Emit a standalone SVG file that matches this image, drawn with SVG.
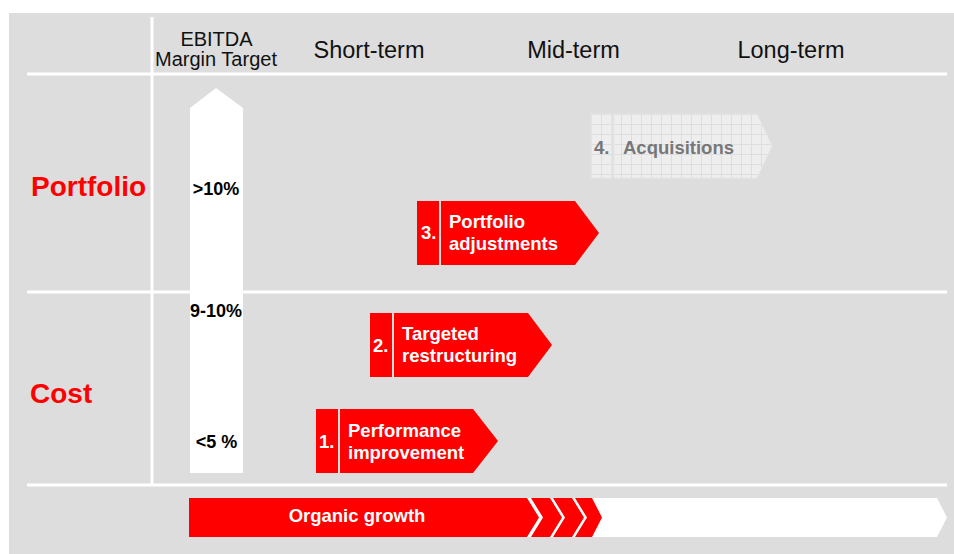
<svg xmlns="http://www.w3.org/2000/svg" width="954" height="554" viewBox="0 0 954 554">
  <defs>
    <pattern id="grid" width="10" height="10" patternUnits="userSpaceOnUse" x="591" y="114">
      <rect width="10" height="10" fill="#EEEEEE"/>
      <path d="M0 0.5H10M0.5 0V10" stroke="#DEDEDE" stroke-width="1" fill="none"/>
    </pattern>
    <style>
      text { font-family: "Liberation Sans", Arial, sans-serif; }
      .hdr { font-size: 23.5px; fill: #111; text-anchor: middle; }
      .sub { font-size: 20px; fill: #111; text-anchor: middle; }
      .row { font-size: 28px; font-weight: bold; fill: #FF0000; }
      .pct { font-size: 18px; font-weight: bold; fill: #000; text-anchor: middle; }
      .lbl { font-size: 18.5px; font-weight: bold; fill: #FFFFFF; }
      .glbl { font-size: 18.5px; font-weight: bold; fill: #777777; }
      .red { fill: #FF0000; }
      .grid { stroke: #FFFFFF; stroke-width: 3; fill: none; }
    </style>
  </defs>

  <rect x="9" y="13" width="945" height="541" fill="#DDDDDD"/>

  <g id="gridlines">
    <line class="grid" x1="27" y1="74" x2="947" y2="74"/>
    <line class="grid" x1="27" y1="292" x2="947" y2="292"/>
    <line class="grid" x1="27" y1="485" x2="947" y2="485"/>
    <line class="grid" x1="152" y1="17" x2="152" y2="485"/>
  </g>

  <g id="headers">
    <text class="sub" x="216.5" y="46">EBITDA</text>
    <text class="sub" x="216" y="66">Margin Target</text>
    <text class="hdr" x="369" y="58">Short-term</text>
    <text class="hdr" x="573.5" y="58">Mid-term</text>
    <text class="hdr" x="791" y="58">Long-term</text>
  </g>

  <g id="rows">
    <text class="row" x="31" y="196">Portfolio</text>
    <text class="row" x="30" y="403">Cost</text>
  </g>

  <g id="ebitda-arrow">
    <polygon points="190,108 216,88 243,108 243,473 190,473" fill="#FFFFFF"/>
    <text class="pct" x="216" y="195">&gt;10%</text>
    <text class="pct" x="216" y="317">9-10%</text>
    <text class="pct" x="216.5" y="448">&lt;5 %</text>
  </g>

  <g id="step4">
    <rect x="591" y="114" width="21" height="64" fill="url(#grid)" stroke="#E6E6E6" stroke-width="1"/>
    <polygon points="614,114 757,114 772,146 757,178 614,178" fill="url(#grid)" stroke="#E6E6E6" stroke-width="1"/>
    <text class="glbl" x="594" y="154">4.</text>
    <text class="glbl" x="623" y="154">Acquisitions</text>
  </g>

  <g id="step3">
    <rect class="red" x="417" y="201" width="22" height="64"/>
    <polygon class="red" points="441,201 575,201 599,233 575,265 441,265"/>
    <text class="lbl" x="421" y="239">3.</text>
    <text class="lbl" x="449" y="228">Portfolio</text>
    <text class="lbl" x="449" y="250">adjustments</text>
  </g>

  <g id="step2">
    <rect class="red" x="370" y="313" width="22" height="64"/>
    <polygon class="red" points="394,313 528,313 552,345 528,377 394,377"/>
    <text class="lbl" x="373" y="352">2.</text>
    <text class="lbl" x="402" y="340">Targeted</text>
    <text class="lbl" x="402" y="362">restructuring</text>
  </g>

  <g id="step1">
    <rect class="red" x="316" y="409" width="22" height="64"/>
    <polygon class="red" points="340,409 473,409 498,441 473,473 340,473"/>
    <text class="lbl" x="319" y="448">1.</text>
    <text class="lbl" x="348" y="437">Performance</text>
    <text class="lbl" x="348" y="459">improvement</text>
  </g>

  <g id="organic-growth">
    <polygon points="520,498 937,498 947,517.5 937,537 520,537" fill="#FFFFFF"/>
    <polygon class="red" points="189,498 527,498 539,517.5 527,537 189,537"/>
    <polygon class="red" points="531,498 550,498 562,517.5 550,537 531,537 543,517.5"/>
    <polygon class="red" points="553,498 572,498 584,517.5 572,537 553,537 565,517.5"/>
    <polygon class="red" points="575,498 592,498 602,517.5 592,537 575,537 587,517.5"/>
    <text class="lbl" x="357" y="522" text-anchor="middle">Organic growth</text>
  </g>
</svg>
